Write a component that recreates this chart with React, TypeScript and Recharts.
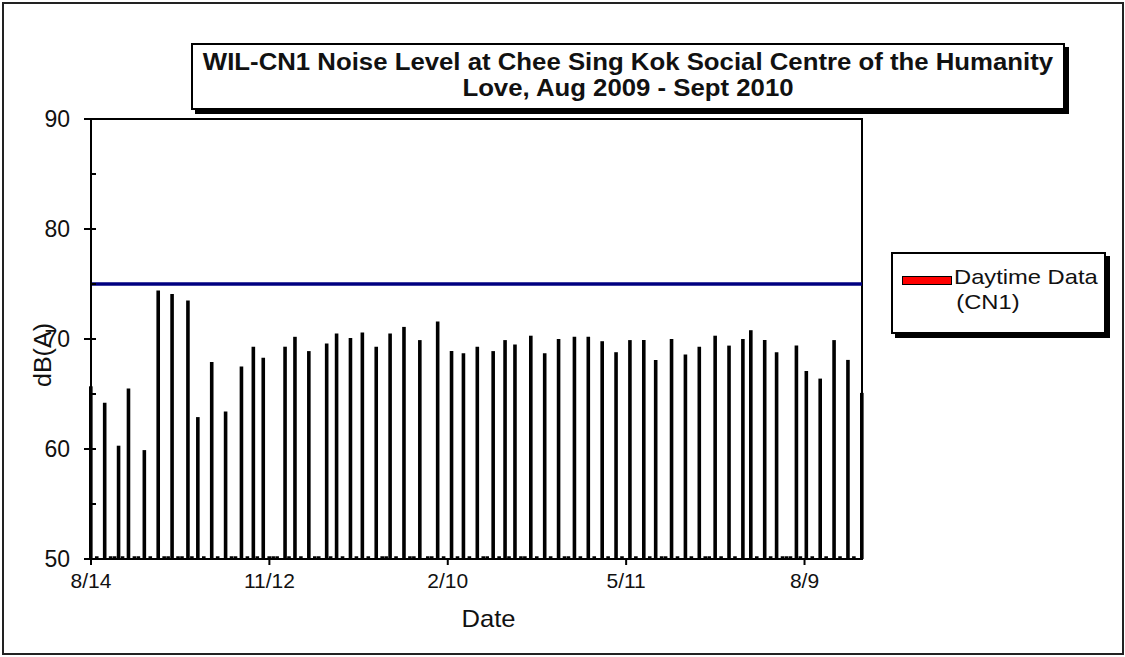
import React from 'react';
import { ComposedChart, Bar, XAxis, YAxis, ReferenceLine, ReferenceArea, Legend, Label } from 'recharts';

const FONT = '"Liberation Sans", Arial, Helvetica, sans-serif';

// ---- text ----
const titleLines = ['WIL-CN1 Noise Level at Chee Sing Kok Social Centre of the Humanity', 'Love, Aug 2009 - Sept 2010'];
const seriesName = ['Daytime Data', '(CN1)'];
const xAxisTitle = 'Date';
const yAxisTitle = 'dB(A)';

// ---- data (x = days since 14 Aug 2009) ----
const dayOffsets = [
  0, 7, 14, 19, 27, 34, 41, 49, 54, 61,
  68, 76, 82, 87, 98, 103, 110, 119, 124, 131,
  137, 144, 151, 158, 166, 175, 182, 188, 195, 203,
  209, 214, 222, 229, 236, 244, 251, 258, 265, 272,
  279, 285, 293, 300, 307, 315, 322, 329, 333, 340,
  346, 356, 361, 368, 375, 382, 389,
];
const daytimeLevels = [
  65.7, 64.2, 60.3, 65.5, 59.9, 74.4, 74.1, 73.5, 62.9, 67.9,
  63.4, 67.5, 69.3, 68.3, 69.3, 70.2, 68.9, 69.6, 70.5, 70.1,
  70.6, 69.3, 70.5, 71.1, 69.9, 71.6, 68.9, 68.7, 69.3, 68.9,
  69.9, 69.5, 70.3, 68.7, 70.0, 70.2, 70.2, 69.8, 68.8, 69.9,
  69.9, 68.1, 70.0, 68.6, 69.3, 70.3, 69.4, 70.0, 70.8, 69.9,
  68.8, 69.4, 67.1, 66.4, 69.9, 68.1, 65.1,
];
// small readings just above the 50 dB baseline
const minorDays = [
  3, 10, 12, 16, 22, 24, 30, 37, 39, 44, 46, 51, 57, 64, 71, 73, 79, 84, 90, 92, 94,
  100, 106, 113, 115, 121, 127, 134, 140, 147, 149, 154, 161, 163, 170, 172, 178, 185,
  191, 198, 200, 206, 211, 217, 219, 225, 232, 239, 241, 247, 254, 261, 268, 275, 282,
  288, 290, 296, 303, 310, 312, 318, 325, 336, 343, 349, 351, 353, 358, 364, 371, 378, 385,
];
const minorLevel = 50.25;
const limitLevel = 75;

const xDomain = [0, 389];
const xTickDays = [0, 90, 180, 270, 360];
const xTickLabels = ['8/14', '11/12', '2/10', '5/11', '8/9'];
const yDomain = [50, 90];
const yTicks = [50, 55, 60, 65, 70, 75, 80, 85, 90];

const chartData = [
  ...dayOffsets.map((d, i) => ({ day: d, level: daytimeLevels[i] })),
  ...minorDays.map((d) => ({ day: d, level: minorLevel })),
].sort((a, b) => a.day - b.day);

const YTick = (props: any) => {
  const { x, y, payload } = props;
  const major = payload.value % 10 === 0;
  return (
    <g>
      <line x1={major ? x - 7 : x} x2={x + 5} y1={y} y2={y} stroke="#000" strokeWidth={2} />
      {major && (
        <text x={x - 21} y={y} dy="0.36em" textAnchor="end" fontSize={23} fill="#111" fontFamily={FONT}>
          {payload.value}
        </text>
      )}
    </g>
  );
};

const XTick = (props: any) => {
  const { x, y, payload } = props;
  const idx = xTickDays.indexOf(payload.value);
  return (
    <g>
      <line x1={x} x2={x} y1={y} y2={y + 6} stroke="#000" strokeWidth={2} />
      <text x={x} y={y + 29} textAnchor="middle" fontSize={21} fill="#111" fontFamily={FONT}>
        {idx >= 0 ? xTickLabels[idx] : ''}
      </text>
    </g>
  );
};

const renderLegend = () => (
  <div
    style={{
      width: 215,
      height: 82,
      boxSizing: 'border-box',
      border: '2px solid #000',
      background: '#fff',
      boxShadow: '4px 4px 0 #000',
      fontFamily: FONT,
      position: 'relative',
      color: '#111',
    }}
  >
    <div
      style={{
        position: 'absolute',
        left: 9,
        top: 22,
        width: 50,
        height: 9,
        boxSizing: 'border-box',
        background: '#ff0000',
        border: '1.5px solid #000',
      }}
    />
    <div
      style={{
        position: 'absolute',
        left: 61,
        top: 10,
        fontSize: 21,
        lineHeight: '25px',
        whiteSpace: 'nowrap',
        transform: 'scaleX(1.13)',
        transformOrigin: 'left top',
        textAlign: 'left',
      }}
    >
      {seriesName[0]}
      <br />
      <span style={{ marginLeft: 2 }}>{seriesName[1]}</span>
    </div>
  </div>
);

export default function App() {
  return (
    <div style={{ position: 'absolute', left: 0, top: 0, width: 1125, height: 657, background: '#fff', fontFamily: FONT }}>
      <div
        style={{
          position: 'absolute',
          left: 2,
          top: 2,
          width: 1122,
          height: 653,
          boxSizing: 'border-box',
          border: '2px solid #222',
        }}
      />
      <ComposedChart
        width={1125}
        height={657}
        data={chartData}
        margin={{ top: 119, right: 263, bottom: 28, left: 21 }}
        style={{ position: 'absolute', left: 0, top: 0 }}
      >
        <XAxis
          dataKey="day"
          type="number"
          domain={xDomain}
          ticks={xTickDays}
          interval={0}
          height={70}
          tickSize={0}
          tickMargin={0}
          tickLine={false}
          tick={<XTick />}
          axisLine={{ stroke: '#000', strokeWidth: 2 }}
        >
          <Label
            content={(p: any) => {
              const vb = p.viewBox;
              return (
                <text
                  x={vb.x + vb.width / 2 + 12}
                  y={627}
                  textAnchor="middle"
                  fontSize={24}
                  fill="#111"
                  fontFamily={FONT}
                  textLength={54}
                  lengthAdjust="spacingAndGlyphs"
                >
                  {xAxisTitle}
                </text>
              );
            }}
          />
        </XAxis>
        <YAxis
          type="number"
          domain={yDomain}
          ticks={yTicks}
          interval={0}
          width={70}
          tickSize={0}
          tickMargin={0}
          tickLine={false}
          tick={<YTick />}
          axisLine={{ stroke: '#000', strokeWidth: 2 }}
        >
          <Label
            content={() => (
              <text
                x={43}
                y={355}
                transform="rotate(-90 43 355)"
                textAnchor="middle"
                dy="0.36em"
                fontSize={23}
                fill="#111"
                fontFamily={FONT}
                textLength={64}
                lengthAdjust="spacingAndGlyphs"
              >
                {yAxisTitle}
              </text>
            )}
          />
        </YAxis>
        <ReferenceArea x1={xDomain[0]} x2={xDomain[1]} y1={yDomain[0]} y2={yDomain[1]} fill="none" stroke="#000" strokeWidth={2} />
        <Bar dataKey="level" name={seriesName.join(' ')} fill="#000" barSize={3.6} isAnimationActive={false} />
        <ReferenceLine y={limitLevel} stroke="#000080" strokeWidth={3.5} />
        <Legend
          layout="vertical"
          align="center"
          verticalAlign="middle"
          content={renderLegend}
          wrapperStyle={{ position: 'absolute', left: 891, top: 252, width: 215, height: 82 }}
        />
      </ComposedChart>
      <div
        style={{
          position: 'absolute',
          left: 191,
          top: 43,
          width: 874,
          height: 67,
          boxSizing: 'border-box',
          border: '2px solid #000',
          background: '#fff',
          boxShadow: '4px 4px 0 #000',
          textAlign: 'center',
          fontWeight: 'bold',
          fontSize: 23,
          lineHeight: '26px',
          color: '#111',
          paddingTop: 4,
        }}
      >
        <div style={{ transform: 'scaleX(1.12)', transformOrigin: 'center top', whiteSpace: 'nowrap' }}>
          {titleLines[0]}
          <br />
          {titleLines[1]}
        </div>
      </div>
    </div>
  );
}
